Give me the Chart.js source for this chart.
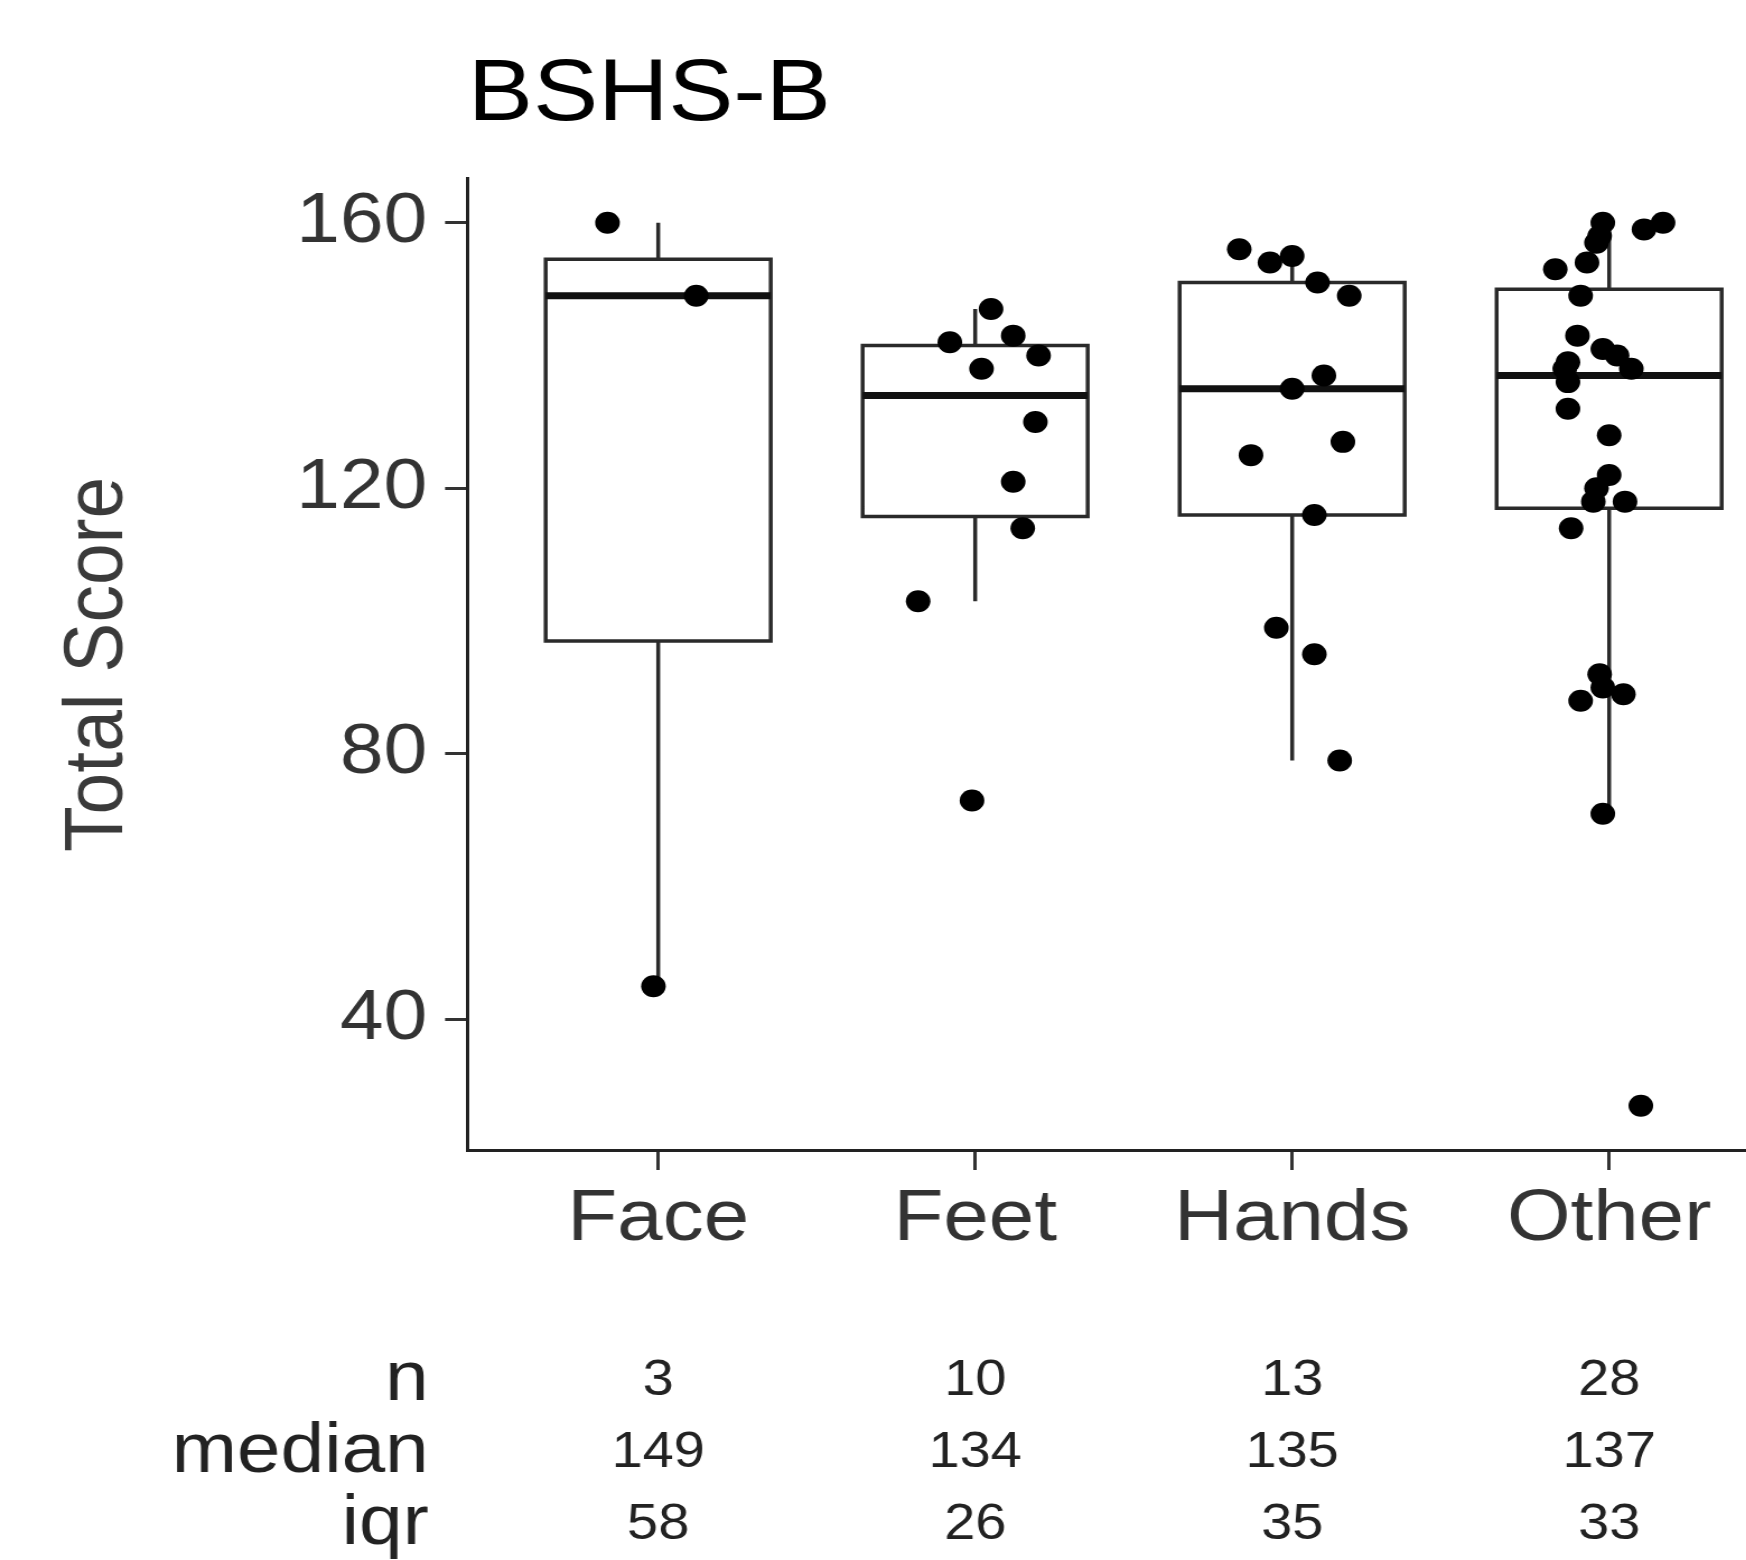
<!DOCTYPE html>
<html>
<head>
<meta charset="utf-8">
<script src="https://cdn.jsdelivr.net/npm/chart.js@4.4.1/dist/chart.umd.min.js"></script>
<style>
html, body { margin: 0; padding: 0; background: #ffffff; overflow: hidden; }
#wrap { position: absolute; left: 0; top: 0; width: 1559px; height: 1560px; transform: scaleX(1.12); transform-origin: 0 0; }
canvas { display: block; }
</style>
</head>
<body>
<div id="wrap"><canvas id="c" width="1559" height="1560" style="width:1559px;height:1560px"></canvas></div>
<script>
// ---- data ----
const categories = ['Face', 'Feet', 'Hands', 'Other'];

const faceScores  = [160, 149, 45];
const faceJitter  = [-0.16, 0.12, -0.015];

const feetScores  = [147, 142, 143, 140, 138, 130, 121, 114, 103, 73];
const feetJitter  = [0.05, -0.08, 0.12, 0.20, 0.02, 0.19, 0.12, 0.15, -0.18, -0.01];

const handsScores = [156, 154, 155, 151, 149, 137, 135, 127, 125, 116, 99, 95, 79];
const handsJitter = [-0.167, -0.07, 0.0, 0.08, 0.18, 0.10, 0.0, 0.16, -0.13, 0.07, -0.05, 0.07, 0.15];

const otherScores = [27, 71, 88, 89, 90, 92, 114, 118, 118, 120, 122, 128, 132, 136, 138, 138, 139, 140, 141, 143, 149, 153, 154, 157, 158, 159, 160, 160];
const otherJitter = [0.10, -0.02, -0.09, 0.045, -0.02, -0.03, -0.12, -0.05, 0.05, -0.04, 0.0, 0.0, -0.13, -0.13, -0.14, 0.07, -0.13, 0.025, -0.02, -0.10, -0.09, -0.17, -0.07, -0.04, -0.03, 0.11, -0.02, 0.17];

// box statistics
const whiskerLow  = [45, 103, 79, 71];
const boxLow      = [97, 115.75, 116, 117];
const medians     = [149, 134, 135, 137];
const boxHigh     = [154.5, 141.5, 151, 150];
const whiskerHigh = [160, 147, 156, 160];

// summary table under the axis
const nLabels      = ['3', '10', '13', '28'];
const medianLabels = ['149', '134', '135', '137'];
const iqrLabels    = ['58', '26', '35', '33'];

const yTicks = [40, 80, 120, 160];
const yMin = 20.35, yMax = 166.65;
const xMin = 0.4, xMax = 4.432;

// ---- build chart ----
const FONT = '"Liberation Sans", Arial, Helvetica, sans-serif';
const BOX_HALF = 0.355;

const scoreSets = [faceScores, feetScores, handsScores, otherScores];
const jitterSets = [faceJitter, feetJitter, handsJitter, otherJitter];

const points = [];
scoreSets.forEach((arr, i) => arr.forEach((v, j) => points.push({ x: i + 1 + jitterSets[i][j], y: v })));

const boxPath = [], whiskerPath = [], medianPath = [];
categories.forEach((c, i) => {
  const x = i + 1;
  boxPath.push(
    { x: x - BOX_HALF, y: boxLow[i] }, { x: x + BOX_HALF, y: boxLow[i] },
    { x: x + BOX_HALF, y: boxHigh[i] }, { x: x - BOX_HALF, y: boxHigh[i] },
    { x: x - BOX_HALF, y: boxLow[i] }, { x: x, y: null });
  whiskerPath.push(
    { x: x, y: boxHigh[i] }, { x: x, y: whiskerHigh[i] }, { x: x, y: null },
    { x: x, y: boxLow[i] }, { x: x, y: whiskerLow[i] }, { x: x, y: null });
  medianPath.push({ x: x - BOX_HALF, y: medians[i] }, { x: x + BOX_HALF, y: medians[i] }, { x: x, y: null });
});

const tablePlugin = {
  id: 'statsTable',
  afterDraw(chart) {
    const ctx = chart.ctx;
    const xs = chart.scales.x;
    const rows = [['n', nLabels], ['median', medianLabels], ['iqr', iqrLabels]];
    const rowY = [1381, 1453, 1525];
    ctx.save();
    ctx.fillStyle = '#222222';
    ctx.textBaseline = 'middle';
    rows.forEach((r, k) => {
      ctx.font = '70px ' + FONT;
      ctx.textAlign = 'right';
      ctx.fillText(r[0], 382.8, rowY[k]);
      ctx.font = '50px ' + FONT;
      ctx.textAlign = 'center';
      r[1].forEach((t, i) => ctx.fillText(t, xs.getPixelForValue(i + 1), rowY[k]));
    });
    ctx.restore();
  }
};

new Chart(document.getElementById('c'), {
  type: 'scatter',
  data: {
    datasets: [
      { type: 'scatter', data: points, pointRadius: 11, pointHoverRadius: 11,
        pointBackgroundColor: '#000000', pointBorderColor: '#000000', pointBorderWidth: 0, order: 0 },
      { type: 'line', data: medianPath, borderColor: '#111111', borderWidth: 7, pointRadius: 0,
        spanGaps: false, tension: 0, borderCapStyle: 'butt', fill: false, order: 1 },
      { type: 'line', data: boxPath, borderColor: '#2a2a2a', borderWidth: 3.5, pointRadius: 0,
        spanGaps: false, tension: 0, borderJoinStyle: 'miter', borderCapStyle: 'square', fill: false, order: 2 },
      { type: 'line', data: whiskerPath, borderColor: '#2a2a2a', borderWidth: 3.5, pointRadius: 0,
        spanGaps: false, tension: 0, borderCapStyle: 'butt', fill: false, order: 3 }
    ]
  },
  options: {
    responsive: false,
    devicePixelRatio: 1,
    animation: false,
    layout: { padding: 0, autoPadding: false },
    plugins: {
      legend: { display: false },
      tooltip: { enabled: false },
      title: {
        display: true, text: 'BSHS-B', align: 'start', fullSize: false, color: '#000000',
        font: { family: FONT, size: 87, weight: 'normal', lineHeight: 1.2 },
        padding: { top: 43.6, bottom: 30.6 }
      }
    },
    scales: {
      x: {
        type: 'linear', min: xMin, max: xMax,
        afterBuildTicks: (s) => { s.ticks = categories.map((c, i) => ({ value: i + 1 })); },
        ticks: {
          callback: (v) => categories[Math.round(v) - 1] || '',
          font: { family: FONT, size: 73 }, color: '#333333', padding: 6,
          maxRotation: 0, minRotation: 0, autoSkip: false
        },
        grid: { display: true, drawOnChartArea: false, drawTicks: true, tickLength: 20, tickWidth: 3, tickColor: '#333333' },
        border: { display: true, color: '#222222', width: 3 },
        afterFit: (s) => { s.height = 410; s.paddingLeft = 0; s.paddingRight = 0; }
      },
      y: {
        type: 'linear', min: yMin, max: yMax,
        afterBuildTicks: (s) => { s.ticks = yTicks.map(v => ({ value: v })); },
        ticks: { font: { family: FONT, size: 70 }, color: '#333333', padding: 16 },
        grid: { display: true, drawOnChartArea: false, drawTicks: true, tickLength: 20.5, tickWidth: 3, tickColor: '#333333' },
        border: { display: true, color: '#222222', width: 3 },
        title: {
          display: true, text: 'Total Score', color: '#3a3a3a',
          font: { family: FONT, size: 75, lineHeight: 1.2 },
          padding: { top: 43, bottom: 0 }
        },
        afterFit: (s) => { s.width = 417.86; }
      }
    }
  },
  plugins: [tablePlugin]
});
</script>
</body>
</html>
